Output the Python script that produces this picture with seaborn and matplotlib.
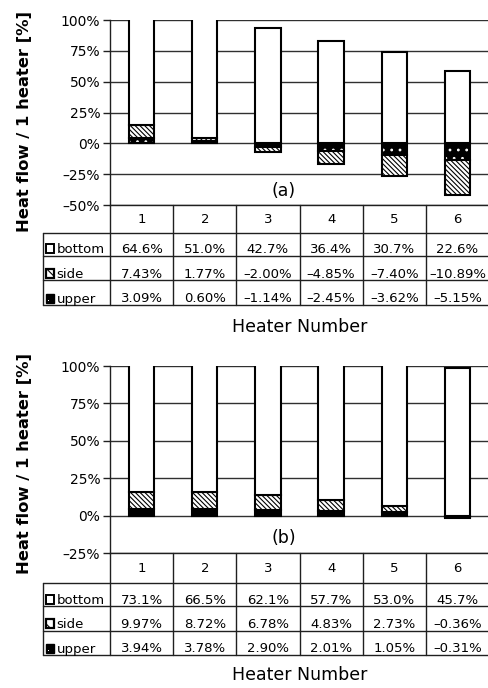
import numpy as np
import pandas as pd
import matplotlib
matplotlib.use("Agg")
import matplotlib.pyplot as plt
from matplotlib.patches import Rectangle
from matplotlib.ticker import FuncFormatter, FixedLocator
import seaborn as sns

# ---------------------------------------------------------------- data
heaters = ["1", "2", "3", "4", "5", "6"]
row_names = ["bottom", "side", "upper"]

# tabulated heat-flow shares [%], case (a)
share_bottom_a = [64.6, 51.0, 42.7, 36.4, 30.7, 22.6]
share_side_a = [7.43, 1.77, -2.00, -4.85, -7.40, -10.89]
share_upper_a = [3.09, 0.60, -1.14, -2.45, -3.62, -5.15]

# tabulated heat-flow shares [%], case (b)
share_bottom_b = [73.1, 66.5, 62.1, 57.7, 53.0, 45.7]
share_side_b = [9.97, 8.72, 6.78, 4.83, 2.73, -0.36]
share_upper_b = [3.94, 3.78, 2.90, 2.01, 1.05, -0.31]

# plotted heat flow per heater [%], case (a)
flow_upper_a = [4.5, 1.5, -2.7, -6.0, -9.5, -13.5]
flow_side_a = [10.0, 3.0, -4.3, -10.8, -17.0, -28.2]
flow_bottom_a = [140.0, 110.0, 93.3, 83.2, 73.8, 58.6]

# plotted heat flow per heater [%], case (b)
flow_upper_b = [4.5, 4.5, 4.0, 3.5, 2.4, -0.6]
flow_side_b = [11.5, 11.3, 9.8, 7.2, 4.5, -0.8]
flow_bottom_b = [160.0, 145.0, 135.0, 125.0, 115.0, 98.5]

# ---------------------------------------------------------------- style
sns.set_theme(style="white")
plt.rcParams["font.family"] = ["DejaVu Sans"]
plt.rcParams["hatch.linewidth"] = 0.8
plt.rcParams["axes.linewidth"] = 1.0

W, H = 489, 688
fig = plt.figure(figsize=(W / 100, H / 100), dpi=100)
fig.patch.set_facecolor("white")

# overlay in pixel units for the data tables and labels
ov = fig.add_axes([0, 0, 1, 1])
ov.set_xlim(0, W)
ov.set_ylim(H, 0)
ov.axis("off")
ov.patch.set_alpha(0)
ov.set_zorder(5)

PLOT_L, PLOT_R = 110, 489
LABEL_L = 43.3
LINE_C = "#202020"
SIDE_HATCH = "\\" * 7
dash = lambda s: s.replace("-", "\u2013")


def px_axes(top, bottom):
    return fig.add_axes([PLOT_L / W, 1 - bottom / H,
                         (PLOT_R - PLOT_L) / W, (bottom - top) / H])


def stack_bases(layers):
    pos = np.zeros(len(heaters))
    neg = np.zeros(len(heaters))
    bases = []
    for vals in layers:
        v = np.asarray(vals, float)
        bases.append(np.where(v >= 0, pos, neg))
        pos = pos + np.clip(v, 0, None)
        neg = neg + np.clip(v, None, 0)
    return bases


def draw_panel(top, bottom, ymin, upper, side, bottom_vals, tag):
    ax = px_axes(top, bottom)
    layers = [upper, side, bottom_vals]
    bases = stack_bases(layers)
    styles = [dict(color="black", hatch=".."),
              dict(color="white", hatch=SIDE_HATCH),
              dict(color="white", hatch=None)]
    for vals, base, st in zip(layers, bases, styles):
        df = pd.DataFrame({"heater": heaters, "flow": vals})
        n0 = len(ax.patches)
        sns.barplot(data=df, x="heater", y="flow", bottom=base,
                    color=st["color"], hatch=st["hatch"], saturation=1,
                    edgecolor="black", linewidth=1.5, width=0.4,
                    errorbar=None, ax=ax, zorder=3)
        if st["color"] == "black":
            for p in ax.patches[n0:]:
                p._hatch_color = (1, 1, 1, 1)
    ax.set_ylim(ymin, 100)
    ax.set_xlim(-0.5, len(heaters) - 0.5)
    ax.yaxis.set_major_locator(FixedLocator(np.arange(ymin, 101, 25)))
    ax.yaxis.set_major_formatter(FuncFormatter(lambda v, _: dash(f"{v:.0f}%")))
    ax.grid(axis="y", color="#303030", linewidth=1.0)
    ax.set_axisbelow(True)
    ax.tick_params(axis="y", left=True, length=5, width=1, color=LINE_C,
                   labelsize=10, labelcolor="black", pad=2, direction="out")
    ax.tick_params(axis="x", bottom=False, labelbottom=False)
    ax.set_xlabel("")
    ax.set_ylabel("")
    for s in ["top", "right"]:
        ax.spines[s].set_visible(False)
    ax.spines["left"].set_color(LINE_C)
    ax.spines["bottom"].set_color(LINE_C)
    ax.text(2.25, ymin + 4, tag, ha="center", va="bottom", fontsize=12.5,
            color="black")
    return ax


def draw_table(top, header_bot, row_lines, shares, xlabel_y):
    cw = (PLOT_R - PLOT_L) / len(heaters)
    bottom_line = row_lines[-1]
    # vertical lines
    for i in range(len(heaters)):
        x = PLOT_L + i * cw
        ov.plot([x, x], [top, bottom_line], color=LINE_C, lw=1.0)
    ov.plot([LABEL_L, LABEL_L], [header_bot, bottom_line], color=LINE_C, lw=1.0)
    # horizontal lines
    for y in [header_bot] + list(row_lines):
        ov.plot([LABEL_L, PLOT_R], [y, y], color=LINE_C, lw=1.0)
    # header numbers
    for i, h in enumerate(heaters):
        ov.text(PLOT_L + (i + 0.5) * cw, (top + header_bot) / 2 + 0.5, h,
                ha="center", va="center", fontsize=9.5, color="black")
    fmts = ["{:.1f}%", "{:.2f}%", "{:.2f}%"]
    for r, (name, vals, fmt, yb) in enumerate(zip(row_names, shares, fmts, row_lines)):
        base_y = yb - 2.5
        # key symbol
        ks = 8.6
        kx, ky = 45.8, base_y - ks
        if r == 0:
            ov.add_patch(Rectangle((kx, ky), ks, ks, facecolor="white",
                                   edgecolor="black", lw=1.4))
        elif r == 1:
            ov.add_patch(Rectangle((kx, ky), ks, ks, facecolor="white",
                                   edgecolor="black", lw=1.6, hatch="\\\\\\"))
        else:
            ov.add_patch(Rectangle((kx, ky), ks, ks, facecolor="black",
                                   edgecolor="black", lw=1.0))
            ov.add_patch(Rectangle((kx + 2, ky + ks - 3), 1.3, 1.3,
                                   facecolor="white", edgecolor="none"))
        ov.text(kx + ks + 2, base_y, name, ha="left", va="baseline",
                fontsize=9.5, color="black")
        for i, v in enumerate(vals):
            ov.text(PLOT_L + (i + 0.5) * cw, base_y, dash(fmt.format(v)),
                    ha="center", va="baseline", fontsize=9.5, color="black")
    ov.text(300, xlabel_y, "Heater Number", ha="center", va="center",
            fontsize=12.5, color="black")


# ---------------------------------------------------------------- panel (a)
draw_panel(20, 205, -50, flow_upper_a, flow_side_a, flow_bottom_a, "(a)")
draw_table(205, 233, [255.5, 280, 305],
           [share_bottom_a, share_side_a, share_upper_a], 327)
ov.text(25, 121, "Heat flow / 1 heater [%]", rotation=90, ha="center",
        va="center", fontsize=11.8, fontweight="bold", color="black")

# ---------------------------------------------------------------- panel (b)
draw_panel(366, 553.3, -25, flow_upper_b, flow_side_b, flow_bottom_b, "(b)")
draw_table(553.3, 582.5, [606, 630.5, 655],
           [share_bottom_b, share_side_b, share_upper_b], 675)
ov.text(25, 463, "Heat flow / 1 heater [%]", rotation=90, ha="center",
        va="center", fontsize=11.8, fontweight="bold", color="black")

fig.savefig("out.png", dpi=100, facecolor="white")
